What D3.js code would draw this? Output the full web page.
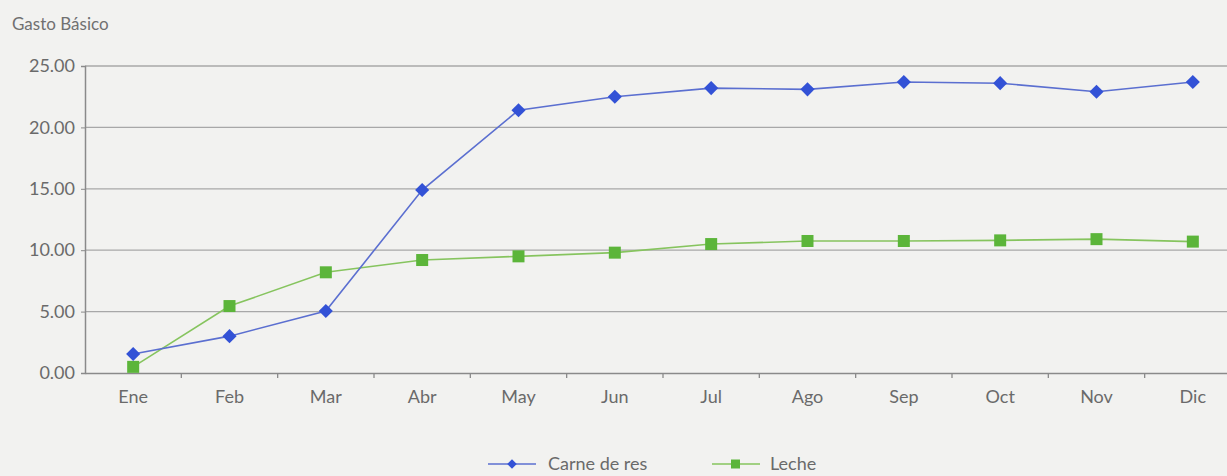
<!DOCTYPE html>
<html>
<head>
<meta charset="utf-8">
<script src="https://cdn.jsdelivr.net/npm/d3@7"></script>
<style>
  body { margin: 0; background: #f2f2f0; }
  svg { display: block; font-family: "Lato", "Open Sans", sans-serif; }
</style>
</head>
<body>
<svg id="svg" width="1227" height="476"></svg>
<script>
const months = ['Ene', 'Feb', 'Mar', 'Abr', 'May', 'Jun', 'Jul', 'Ago', 'Sep', 'Oct', 'Nov', 'Dic'];
const carne = [1.55, 3.0, 5.05, 14.9, 21.4, 22.5, 23.2, 23.1, 23.7, 23.6, 22.9, 23.7];
const leche = [0.5, 5.45, 8.2, 9.2, 9.5, 9.8, 10.5, 10.75, 10.75, 10.8, 10.9, 10.7];
const yTicks = [0, 5, 10, 15, 20, 25];

const svg = d3.select('#svg');
const plotLeft = 85, plotTop = 66, plotBottom = 373, plotRight = 1241;

const x = d3.scaleBand().domain(months).range([plotLeft, plotRight]);
const y = d3.scaleLinear().domain([0, 25]).range([plotBottom, plotTop]);
const cx = d => x(d) + x.bandwidth() / 2;

// gridlines
svg.append('g')
    .selectAll('line')
    .data(yTicks.filter(t => t > 0))
    .join('line')
    .attr('x1', plotLeft).attr('x2', plotRight)
    .attr('y1', d => y(d)).attr('y2', d => y(d))
    .attr('stroke', '#a8a8a8')
    .attr('stroke-width', 1.3);

// y axis
const yAxis = svg.append('g')
    .attr('transform', `translate(${plotLeft},0)`)
    .call(d3.axisLeft(y).tickValues(yTicks).tickFormat(d3.format('.2f')).tickSize(4).tickPadding(6))
    .attr('font-family', null);
yAxis.select('.domain').attr('stroke', '#8a8a8a').attr('stroke-width', 1.5);
yAxis.selectAll('.tick line').attr('stroke', '#8a8a8a');
yAxis.selectAll('text').attr('fill', '#6a6a6a').style('font-size', '18px');

// x axis
const xAxis = svg.append('g')
    .attr('transform', `translate(0,${plotBottom})`)
    .call(d3.axisBottom(x).tickSize(0).tickPadding(17))
    .attr('font-family', null);
xAxis.select('.domain').attr('stroke', '#8a8a8a').attr('stroke-width', 1.5);
xAxis.selectAll('text').attr('fill', '#6a6a6a').style('font-size', '18px');
// tick marks at band boundaries
svg.append('g')
    .selectAll('line')
    .data(months.slice(1))
    .join('line')
    .attr('x1', d => x(d)).attr('x2', d => x(d))
    .attr('y1', plotBottom).attr('y2', plotBottom + 5)
    .attr('stroke', '#8a8a8a').attr('stroke-width', 1.3);

// title
svg.append('text')
    .attr('x', 12).attr('y', 30)
    .attr('fill', '#707070')
    .style('font-size', '17px')
    .text('Gasto Básico');

const line = d3.line().x((d, i) => cx(months[i])).y(d => y(d));

// Leche
svg.append('path').datum(leche)
    .attr('d', line).attr('fill', 'none')
    .attr('stroke', '#86c45e').attr('stroke-width', 1.6);
svg.append('g').selectAll('rect')
    .data(leche)
    .join('rect')
    .attr('x', (d, i) => cx(months[i]) - 6)
    .attr('y', d => y(d) - 6)
    .attr('width', 12).attr('height', 12)
    .attr('fill', '#5cb53a');

// Carne de res
svg.append('path').datum(carne)
    .attr('d', line).attr('fill', 'none')
    .attr('stroke', '#5b6fd0').attr('stroke-width', 1.6);
// diamond = square turned 45 degrees
const diamond = d3.symbol().type(d3.symbolSquare).size(100);
svg.append('g').selectAll('path')
    .data(carne)
    .join('path')
    .attr('d', diamond)
    .attr('transform', (d, i) => `translate(${cx(months[i])},${y(d)}) rotate(45)`)
    .attr('fill', '#3352d6');

// legend
const legY = 464;
const lg = svg.append('g');
lg.append('line').attr('x1', 488).attr('x2', 536).attr('y1', legY).attr('y2', legY)
    .attr('stroke', '#5b6fd0').attr('stroke-width', 1.6);
lg.append('path').attr('d', d3.symbol().type(d3.symbolSquare).size(45))
    .attr('transform', `translate(512,${legY}) rotate(45)`).attr('fill', '#3352d6');
lg.append('text').attr('x', 548).attr('y', legY + 6).attr('fill', '#6a6a6a')
    .style('font-size', '18px').text('Carne de res');
lg.append('line').attr('x1', 712).attr('x2', 760).attr('y1', legY).attr('y2', legY)
    .attr('stroke', '#86c45e').attr('stroke-width', 1.6);
lg.append('rect').attr('x', 731).attr('y', legY - 4.5).attr('width', 9).attr('height', 9)
    .attr('fill', '#5cb53a');
lg.append('text').attr('x', 770).attr('y', legY + 6).attr('fill', '#6a6a6a')
    .style('font-size', '18px').text('Leche');
</script>
</body>
</html>
